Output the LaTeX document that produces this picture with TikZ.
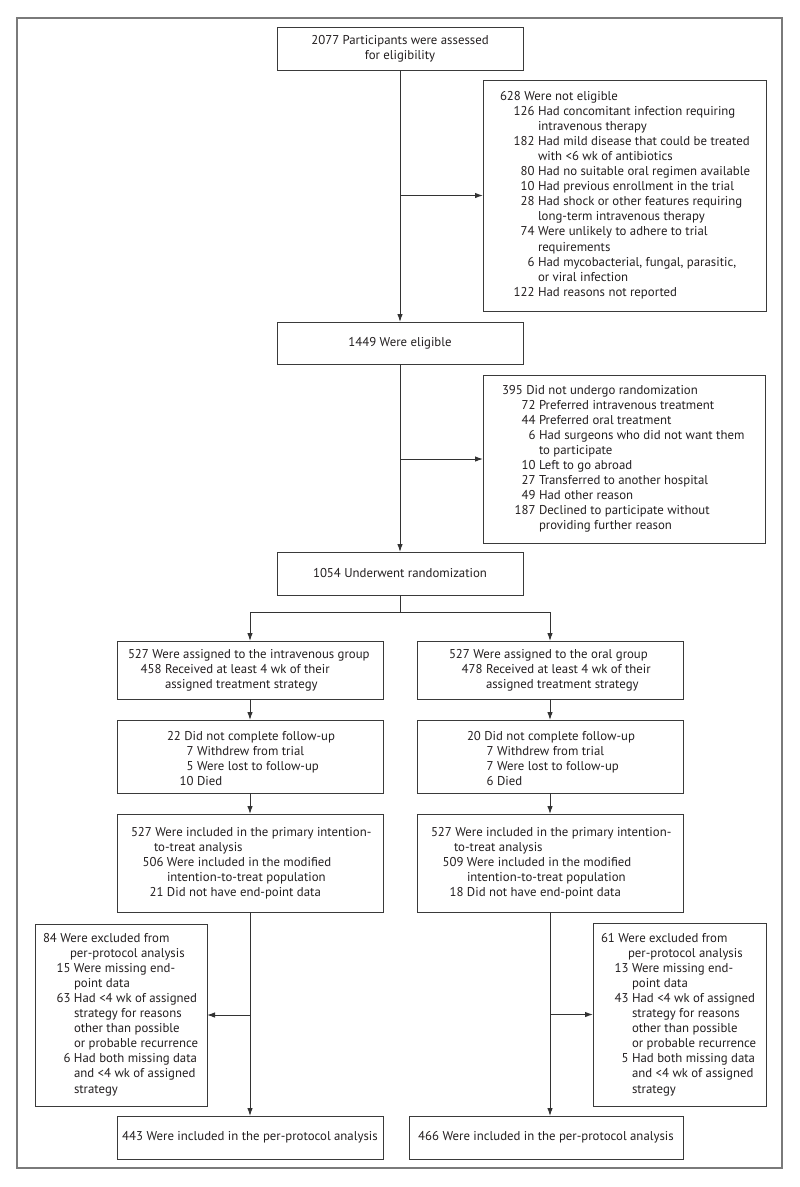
\documentclass[tikz,border=0pt]{standalone}
\usepackage{fontspec}
\setmainfont{PT Sans}
\usetikzlibrary{arrows.meta}
\definecolor{boxc}{HTML}{3A3A3A}
\definecolor{linec}{HTML}{333333}
\definecolor{framec}{HTML}{7A7A7A}
\definecolor{txtc}{HTML}{231F20}
\newcommand{\fs}{\fontsize{12.8pt}{15.1pt}\selectfont}
\newcommand{\numit}[3]{\makebox[#1][r]{#2\ }#3}
\newcommand{\contl}[2]{\hspace*{#1}#2}
\begin{document}
\begin{tikzpicture}[x=1pt,y=-1pt,
  box/.style={draw=boxc, line width=1pt, inner sep=0pt, outer sep=0pt, fill=white, align=center, font=\fs, text=txtc},
  txt/.style={inner sep=0pt, outer sep=0pt, align=left, anchor=base west, font=\fs, text=txtc},
  conn/.style={draw=linec, line width=1pt},
  arr/.style={conn, -{Latex[length=8pt,width=5.5pt]}}]
\useasboundingbox (0,0) rectangle (800,1187);
\fill[white] (0,0) rectangle (800,1187);
\draw[framec, line width=2pt] (17,18) rectangle (782,1168);

% boxes
\node[box, minimum width=246, minimum height=43] (top) at (400,48.5) {2077 Participants were assessed\\for eligibility};
\node[box, minimum width=283, minimum height=231] (ex1) at (624.5,195.5) {};
\node[box, minimum width=246, minimum height=42] (elig) at (400,343) {1449 Were eligible};
\node[box, minimum width=282, minimum height=168] (ex2) at (624,459) {};
\node[box, minimum width=246, minimum height=43] (rand) at (400,573.5) {1054 Underwent randomization};
\node[box, minimum width=266, minimum height=58] (a1) at (250,670) {};
\node[box, minimum width=266, minimum height=73] (a2) at (250,756.5) {};
\node[box, minimum width=266, minimum height=98] (a3) at (250,863) {};
\node[box, minimum width=266, minimum height=58] (b1) at (550,670) {};
\node[box, minimum width=266, minimum height=73] (b2) at (550,756.5) {};
\node[box, minimum width=266, minimum height=98] (b3) at (550,863) {};
\node[box, minimum width=172, minimum height=182] (exl) at (121,1015) {};
\node[box, minimum width=173, minimum height=183] (exr) at (679.5,1014.5) {};
\node[box, minimum width=266, minimum height=43] (ppl) at (250,1137.5) {443 Were included in the per-protocol analysis};
\node[box, minimum width=274, minimum height=43] (ppr) at (546,1137.5) {466 Were included in the per-protocol analysis};

% texts (anchored at the baseline of their last line)
\node[txt] (ex1t) at (500,296.3) {628 Were not eligible\\
\numit{38pt}{126}{Had concomitant infection requiring}\\
\contl{38pt}{intravenous therapy}\\
\numit{38pt}{182}{Had mild disease that could be treated}\\
\contl{38pt}{with <6 wk of antibiotics}\\
\numit{38pt}{80}{Had no suitable oral regimen available}\\
\numit{38pt}{10}{Had previous enrollment in the trial}\\
\numit{38pt}{28}{Had shock or other features requiring}\\
\contl{38pt}{long-term intravenous therapy}\\
\numit{38pt}{74}{Were unlikely to adhere to trial}\\
\contl{38pt}{requirements}\\
\numit{38pt}{6}{Had mycobacterial, fungal, parasitic,}\\
\contl{38pt}{or viral infection}\\
\numit{38pt}{122}{Had reasons not reported}};

\node[txt] (ex2t) at (502,529.9) {395 Did not undergo randomization\\
\numit{37pt}{72}{Preferred intravenous treatment}\\
\numit{37pt}{44}{Preferred oral treatment}\\
\numit{37pt}{6}{Had surgeons who did not want them}\\
\contl{37pt}{to participate}\\
\numit{37pt}{10}{Left to go abroad}\\
\numit{37pt}{27}{Transferred to another hospital}\\
\numit{37pt}{49}{Had other reason}\\
\numit{37pt}{187}{Declined to participate without}\\
\contl{37pt}{providing further reason}};

\node[txt] (a1t) at (128,688.2) {527 Were assigned to the intravenous group\\
\numit{37pt}{458}{Received at least 4 wk of their}\\
\contl{37pt}{assigned treatment strategy}};
\node[txt] (b1t) at (449,688.2) {527 Were assigned to the oral group\\
\numit{37pt}{478}{Received at least 4 wk of their}\\
\contl{37pt}{assigned treatment strategy}};

\node[txt] (a2t) at (167,785.3) {22 Did not complete follow-up\\
\numit{30pt}{7}{Withdrew from trial}\\
\numit{30pt}{5}{Were lost to follow-up}\\
\numit{30pt}{10}{Died}};
\node[txt] (b2t) at (467,785.3) {20 Did not complete follow-up\\
\numit{30pt}{7}{Withdrew from trial}\\
\numit{30pt}{7}{Were lost to follow-up}\\
\numit{30pt}{6}{Died}};

\node[txt] (a3t) at (131,896.4) {527 Were included in the primary intention-\\
\contl{23pt}{to-treat analysis}\\
\numit{36pt}{506}{Were included in the modified}\\
\contl{36pt}{intention-to-treat population}\\
\numit{36pt}{21}{Did not have end-point data}};
\node[txt] (b3t) at (431,896.4) {527 Were included in the primary intention-\\
\contl{23pt}{to-treat analysis}\\
\numit{36pt}{509}{Were included in the modified}\\
\contl{36pt}{intention-to-treat population}\\
\numit{36pt}{18}{Did not have end-point data}};

\node[txt] (exlt) at (43,1093) {84 Were excluded from\\
\contl{27pt}{per-protocol analysis}\\
\numit{31pt}{15}{Were missing end-}\\
\contl{31pt}{point data}\\
\numit{31pt}{63}{Had <4 wk of assigned}\\
\contl{31pt}{strategy for reasons}\\
\contl{31pt}{other than possible}\\
\contl{31pt}{or probable recurrence}\\
\numit{31pt}{6}{Had both missing data}\\
\contl{31pt}{and <4 wk of assigned}\\
\contl{31pt}{strategy}};
\node[txt] (exrt) at (601,1093) {61 Were excluded from\\
\contl{27pt}{per-protocol analysis}\\
\numit{31pt}{13}{Were missing end-}\\
\contl{31pt}{point data}\\
\numit{31pt}{43}{Had <4 wk of assigned}\\
\contl{31pt}{strategy for reasons}\\
\contl{31pt}{other than possible}\\
\contl{31pt}{or probable recurrence}\\
\numit{31pt}{5}{Had both missing data}\\
\contl{31pt}{and <4 wk of assigned}\\
\contl{31pt}{strategy}};

% connectors
\coordinate (split) at (400,612);
\draw[arr] (top.south) -- (elig.north);
\draw[arr] (top.south |- ex1.west) -- (ex1.west);
\draw[arr] (elig.south) -- (rand.north);
\draw[arr] (elig.south |- ex2.west) -- (ex2.west);
\draw[conn] (rand.south) -- (split);
\draw[arr] (split) -| (a1.north);
\draw[arr] (split) -| (b1.north);
\draw[arr] (a1.south) -- (a2.north);
\draw[arr] (a2.south) -- (a3.north);
\draw[arr] (b1.south) -- (b2.north);
\draw[arr] (b2.south) -- (b3.north);
\draw[arr] (a3.south) -- (ppl.north);
\draw[arr] (b3.south) -- (b3.south |- ppr.north);
\draw[arr] (a3.south |- exl.east) -- (exl.east);
\draw[arr] (b3.south |- exr.west) -- (exr.west);
\end{tikzpicture}
\end{document}
